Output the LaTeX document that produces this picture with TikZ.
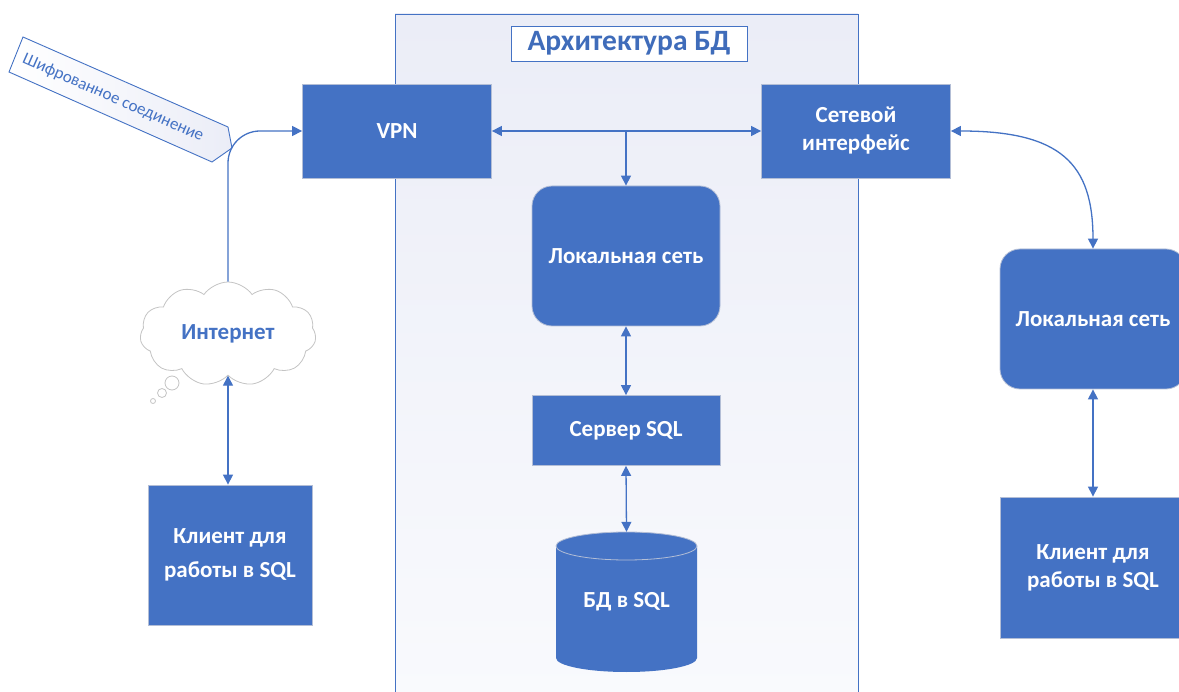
\documentclass[tikz,border=0pt]{standalone}
\usepackage{fontspec}
\setmainfont{Carlito}
\usetikzlibrary{arrows.meta,shapes.symbols}
\definecolor{mblue}{HTML}{4472C4}
\definecolor{tblue}{HTML}{3F6CBA}
\definecolor{bedge}{HTML}{B3BED6}
\definecolor{lav}{HTML}{EBEDF7}
\definecolor{lav2}{HTML}{F9FAFD}
\definecolor{cgray}{HTML}{C4C4C4}
\tikzset{
  blk/.style={fill=mblue, draw=bedge, line width=0.8pt, text=white,
    font=\fontsize{23}{28}\selectfont\bfseries, align=center, inner sep=0pt},
  conn/.style={draw=mblue, line width=1.3pt, arrows={-}},
  tip/.style={arrows={-{Triangle[length=10pt,width=10pt]}}},
  dtip/.style={arrows={{Triangle[length=10pt,width=10pt]}-{Triangle[length=10pt,width=10pt]}}},
}
\begin{document}
\begin{tikzpicture}[x=1pt,y=-1pt]
\useasboundingbox (0,0) rectangle (1179,692);
\clip (0,0) rectangle (1179,692);
\fill[white] (0,0) rectangle (1179,692);
% panel
\shade[top color=lav, bottom color=lav2] (395,14) rectangle (858,700);
\draw[mblue, line width=0.9pt] (395,700) -- (395,14) -- (858,14) -- (858,700);
% title
\node[draw=mblue, fill=white, line width=0.9pt, minimum width=236pt, minimum height=35pt,
  text=tblue, font=\fontsize{29.5}{34}\selectfont\bfseries, inner sep=0pt] (title) at (629,43.5) {Архитектура БД};
% boxes
\node[blk, minimum width=189pt, minimum height=94pt] (vpn) at (397,131) {VPN};
\node[blk, minimum width=189pt, minimum height=94pt] (net) at (856,131) {Сетевой\\интерфейс};
\node[blk, rounded corners=20pt, minimum width=188pt, minimum height=140pt] (lan) at (626,256) {Локальная сеть};
\node[blk, minimum width=188pt, minimum height=70pt] (srv) at (626,430.5) {Сервер SQL};
\node[blk, rounded corners=20pt, minimum width=186pt, minimum height=140pt] (lan2) at (1093,319) {Локальная сеть};
\node[blk, minimum width=186pt, minimum height=141pt] (cl2) at (1093,567.5) {Клиент для\\работы в SQL};
\node[blk, minimum width=164pt, minimum height=140pt] (cl1) at (230,555) {Клиент для\\[6pt]работы в SQL};
% database cylinder
\fill[mblue] (556,546) -- (556,658) arc[start angle=180, end angle=360, x radius=70.5pt, y radius=14pt]
  -- (697,546) arc[start angle=0, end angle=180, x radius=70.5pt, y radius=14pt] -- cycle;
\draw[bedge, line width=0.8pt] (626.5,546) ellipse[x radius=70.5pt, y radius=14pt];
\node[text=white, font=\fontsize{23}{28}\selectfont\bfseries, minimum width=141pt, minimum height=140pt, inner sep=0pt] (db) at (626.5,602) {БД в SQL};
% cloud
\node[cloud, cloud puffs=11, cloud puff arc=110, aspect=1.7, draw=cgray, fill=white, line width=0.8pt,
  minimum width=176pt, minimum height=104pt, inner sep=0pt, text=mblue,
  font=\fontsize{23}{28}\selectfont\bfseries] (inet) at (228,334) {Интернет};
\draw[cgray, fill=white, line width=0.8pt] (172,383) circle[radius=7pt];
\draw[cgray, fill=white, line width=0.8pt] (162,393) circle[radius=4.5pt];
\draw[cgray, fill=white, line width=0.8pt] (153,401) circle[radius=2.5pt];
% callout
\shade[left color=white, right color=lav, draw=mblue, line width=0.9pt]
  (23,37) -- (228,127) -- (232,148) -- (212,162) -- (9,72) -- cycle;
\node[text=mblue, font=\fontsize{17}{20}\selectfont, rotate=-23.7, inner sep=0pt] (enc) at (113,98) {Шифрованное соединение};
% connectors
\draw[conn, tip, rounded corners=32pt] (inet.north) |- (vpn.west);
\draw[conn, dtip] (inet.south) -- (inet.south |- cl1.north);
\draw[conn, dtip] (vpn.east) -- (net.west);
\draw[conn, tip] (vpn.east -| lan.north) -- (lan.north);
\draw[conn, dtip] (lan.south) -- (srv.north);
\draw[conn, dtip] (srv.south) -- (db.north);
\draw[conn, dtip] (net.east) .. controls +(110,0) and +(0,-85) .. (lan2.north);
\draw[conn, dtip] (lan2.south) -- (cl2.north);
\end{tikzpicture}
\end{document}
